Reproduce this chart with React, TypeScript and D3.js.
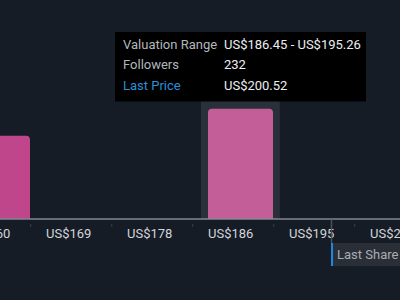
import React from "react";
import * as d3 from "d3";

const binStarts = [160.02, 168.83, 177.64, 186.45, 195.26, 204.07];
const binWidth = 8.81;
const followers = [175, 0, 0, 232, 0, 0];
const tickLabels = ["US$160", "US$169", "US$178", "US$186", "US$195", "US$204"];
const highlightIndex = 3;
const lastPrice = 200.52;
const tooltipRows = [
  { label: "Valuation Range", value: "US$186.45 - US$195.26", color: "#b3b7bc" },
  { label: "Followers", value: "232", color: "#b3b7bc" },
  { label: "Last Price", value: "US$200.52", color: "#2b8fd9" },
];

const W = 400;
const H = 300;

export default function App() {
  const x = d3.scaleLinear().domain([186.45, 195.26]).range([201.8, 282.8]);
  const y = d3.scaleLinear().domain([0, 300]).range([218.5, 76.5]);
  const font = "Roboto, 'Noto Sans', sans-serif";

  const barPath = (x0: number, x1: number, top: number, bottom: number, r: number) => {
    const rr = Math.min(r, (bottom - top) / 2);
    return `M${x0},${bottom}V${top + rr}Q${x0},${top} ${x0 + rr},${top}H${x1 - rr}Q${x1},${top} ${x1},${top + rr}V${bottom}Z`;
  };

  const lp = Math.round(x(lastPrice)) + 0.5;

  return (
    <svg width={W} height={H} style={{ position: "absolute", left: 0, top: 0, background: "#161c26" }}>
      <rect x={0} y={0} width={W} height={H} fill="#161c26" />
      {(() => {
        const s = binStarts[highlightIndex];
        const x0 = x(s) - 0.8;
        const x1 = x(s + binWidth);
        return <rect x={x0} y={98} width={x1 - x0 - 3} height={218.5 - 98} fill="#2a3039" />;
      })()}
      {binStarts.map((s, i) => {
        const v = followers[i];
        if (!v) return null;
        const x0 = x(s) + 6.2;
        const x1 = x(s) + 71.2;
        const top = y(v);
        return (
          <path
            key={i}
            d={barPath(x0, x1, top, y(0), 4)}
            fill={i === highlightIndex ? "#c45e98" : "#bf468b"}
          />
        );
      })}
      <line x1={0} x2={W} y1={219} y2={219} stroke="#b8bcc1" strokeWidth={1.2} />
      {binStarts.map((s, i) => (
        <line key={i} x1={x(s) + 72} x2={x(s) + 72} y1={224} y2={227} stroke="#3b414b" strokeWidth={1} />
      ))}
      {binStarts.map((s, i) => (
        <text key={i} x={x(s) + 6.2} y={237.5} fill="#d2d5d9" fontSize={13} fontFamily={font}>
          {tickLabels[i]}
        </text>
      ))}
      <line x1={lp} x2={lp} y1={219.5} y2={243} stroke="#4b5058" strokeWidth={1.5} />
      <rect x={lp} y={243} width={W - lp} height={23} fill="#2a2f37" />
      <rect x={lp - 0.5} y={243} width={2} height={23} fill="#1e88e5" />
      <text x={lp + 5.5} y={259} fill="#a9adb3" fontSize={13} fontFamily={font}>
        Last Share Price
      </text>
      <rect x={115} y={32} width={251} height={69.5} fill="#000000" />
      {tooltipRows.map((r, i) => (
        <g key={i}>
          <text x={123} y={48.5 + i * 20.5} fill={r.color} fontSize={13} fontFamily={font}>
            {r.label}
          </text>
          <text x={224} y={48.5 + i * 20.5} fill="#eceef0" fontSize={13} fontFamily={font}>
            {r.value}
          </text>
        </g>
      ))}
    </svg>
  );
}
